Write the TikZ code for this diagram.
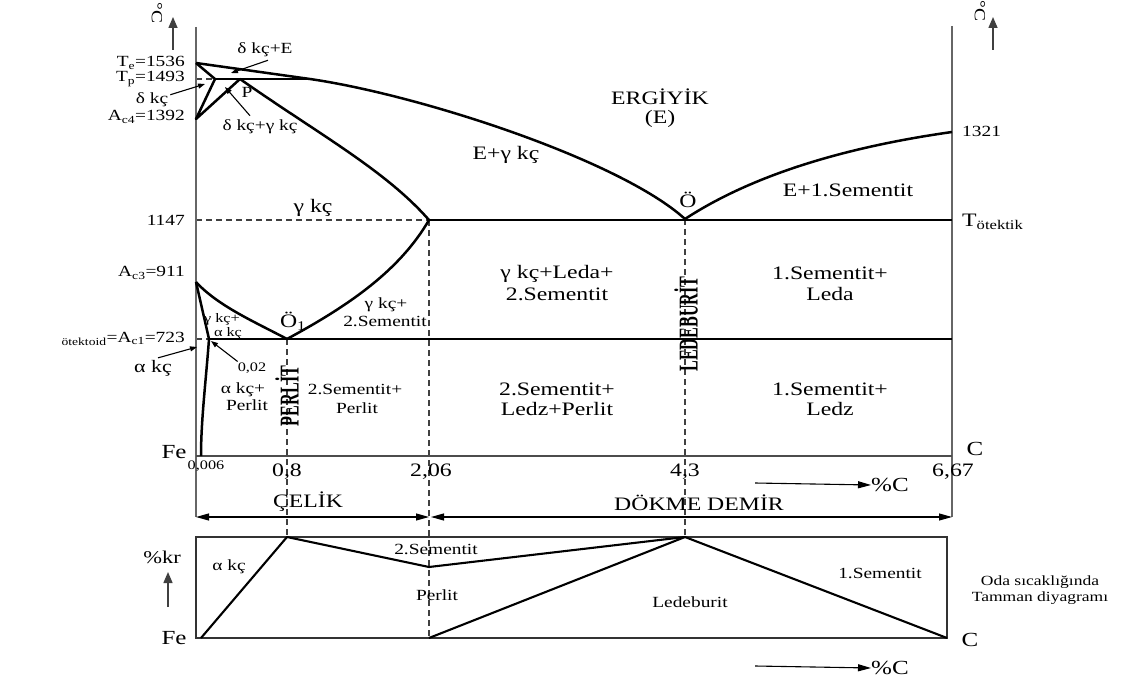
\documentclass[tikz,border=0pt]{standalone}
\usepackage{fontspec}
\setmainfont{Liberation Serif}[FakeStretch=1.25]
\newfontfamily\plainfont{Liberation Serif}
\usetikzlibrary{arrows.meta}
\begin{document}
\begin{tikzpicture}[x=1pt,y=-1pt,
  curve/.style={line width=2.5pt, black, line join=round},
  axisline/.style={line width=1.8pt, black!60},
  baseline/.style={line width=1.4pt, black!70},
  dashline/.style={line width=1.1pt, black!75, dash pattern=on 6pt off 4pt},
  pointer/.style={line width=1.1pt, -{Triangle[length=7pt,width=5pt]}},
  dimarrow/.style={line width=1.1pt, {Triangle[length=13pt,width=7pt]}-{Triangle[length=13pt,width=7pt]}},
  onearrow/.style={line width=1.1pt, -{Triangle[length=13pt,width=7pt]}},
  uparrow/.style={line width=1.5pt, black!75, -{Triangle[length=11pt,width=9pt]}},
  big/.style={font=\fontsize{19}{21}\selectfont, inner sep=0pt},
  mid/.style={font=\fontsize{15.5}{17}\selectfont, inner sep=0pt},
  small/.style={font=\fontsize{13}{14}\selectfont, inner sep=0pt},
  huge/.style={font=\fontsize{20}{22}\selectfont, inner sep=0pt},
  vert/.style={rotate=90, inner sep=0pt, font=\plainfont\bfseries\fontsize{17}{18}\selectfont},
]
\useasboundingbox (0,0) rectangle (1143,679);

% ---- key coordinates ----
\coordinate (LT) at (196,27);
\coordinate (LB) at (196,517);
\coordinate (RT) at (952,26);
\coordinate (RB) at (952,517);
\coordinate (Te) at (196,63);
\coordinate (Tp) at (196,79);
\coordinate (H) at (215,79);
\coordinate (P) at (240,79);
\coordinate (Bq) at (310,79);
\coordinate (A4) at (196,119);
\coordinate (Eleft) at (196,220);
\coordinate (E) at (429,220);
\coordinate (O) at (685,219);
\coordinate (Eright) at (952,220);
\coordinate (T1321) at (952,132);
\coordinate (A3) at (196,282);
\coordinate (A1) at (196,339);
\coordinate (Q) at (209,339);
\coordinate (O1) at (287,339);
\coordinate (A1r) at (952,339);
\coordinate (S0) at (201,456);
\coordinate (BL) at (196,456);
\coordinate (BR) at (952,456);
% lower box
\coordinate (bTL) at (196,537);
\coordinate (bBR) at (947,638);
\coordinate (k1) at (201,638);
\coordinate (k2) at (287,537);
\coordinate (k3) at (429,567);
\coordinate (k4) at (685,537);
\coordinate (k5) at (429,638);
\coordinate (k6) at (947,638);
\coordinate (dE) at (429,638);

% ---- dashed guides ----
\draw[dashline] (Tp) -- (H);
\draw[dashline] (Eleft) -- (E);
\draw[dashline] (A1) -- (Q);
\draw[dashline] (O1) -- (k2);
\draw[dashline] (E) -- (dE);
\draw[dashline] (O) -- (k4);

% ---- axes ----
\draw[axisline] (LT) -- (LB);
\draw[axisline] (RT) -- (RB);
\draw[baseline] (BL) -- (BR);

% ---- phase lines ----
\draw[curve] (Te) -- (Bq) .. controls (420,95) and (620,160) .. (O);
\draw[curve] (O) .. controls (760,170) and (860,145) .. (T1321);
\draw[curve] (Te) -- (H) -- (A4) -- (P);
\draw[curve] (H) -- (Bq);
\draw[curve] (P) .. controls (320,135) and (385,170) .. (E);
\draw[curve] (E) -- (Eright);
\draw[curve] (A3) .. controls (218,306) and (255,322) .. (O1);
\draw[curve] (O1) .. controls (350,305) and (400,270) .. (E);
\draw[curve] (A3) -- (Q);
\draw[curve] (Q) .. controls (206,380) and (201,420) .. (S0);
\draw[curve] (Q) -- (A1r);

% ---- lower Tamman box ----
\draw[line width=1.4pt, black!80] (bTL) rectangle (bBR);
\draw[curve, line width=2.1pt] (k1) -- (k2) -- (k3) -- (k4) -- (k6);
\draw[curve, line width=2.1pt] (k5) -- (k4);

% ---- dimension arrows ----
\draw[dimarrow] (LB) -- (429,517);
\draw[dimarrow] (431,517) -- (RB);

% ---- temperature axis arrows ----
\coordinate (ua1) at (173,50); \coordinate (ua2) at (173,17);
\coordinate (ub1) at (993,50); \coordinate (ub2) at (993,17);
\draw[uparrow] (ua1) -- (ua2);
\draw[uparrow] (ub1) -- (ub2);
\node[mid, rotate=-90] (degL) at (157,13) {°C};
\node[mid, rotate=-90] (degR) at (980,11) {°C};

% ---- left temperature labels ----
\node[mid, anchor=east] (lTe) at (185,63) {T\textsubscript{e}=1536};
\node[mid, anchor=east] (lTp) at (185,79) {T\textsubscript{p}=1493};
\node[mid] (ldel) at (152,100) {δ kç};
\node[mid, anchor=east] (lA4) at (185,117) {A\textsubscript{c4}=1392};
\node[mid, anchor=east] (l1147) at (185,220) {1147};
\node[mid, anchor=east] (lA3) at (185,273) {A\textsubscript{c3}=911};
\node[mid, anchor=east] (lA1) at (185,339) {\textsubscript{ötektoid}=A\textsubscript{c1}=723};

% ---- pointers ----
\node[mid] (ldE) at (265,50) {δ kç+E};
\node[mid] (lP) at (247,92) {P};
\node[mid] (ldg) at (260,127) {δ kç+γ kç};
\coordinate (pdE) at (231,73);
\coordinate (pdel) at (205,84);
\coordinate (pdg) at (225,87);
\draw[pointer] (ldE.south) ++(3,3) -- (pdE);
\draw[pointer] (ldel.north east) ++(2,2) -- (pdel);
\draw[pointer] (ldg.north) ++(-10,-4) -- (pdg);

\node[font=\fontsize{17.5}{19}\selectfont, inner sep=0pt] (lak) at (153,368) {α kç};
\coordinate (pak) at (197,347);
\draw[pointer] (lak.north) ++(5,-2) -- (pak);
\node[small] (l002) at (252,368) {0,02};
\coordinate (p002) at (211,341);
\draw[pointer] (l002.north west) ++(0,-1) -- (p002);

% ---- region labels ----
\node[big] (lErg) at (660,97) {ERGİYİK};
\node[big] (lEp) at (660,119) {(E)};
\node[big] (lEg) at (506,155) {E+γ kç};
\node[big] (lO) at (688,200) {Ö};
\node[big] (lE1) at (848,190) {E+1.Sementit};
\node[mid, anchor=west] (l1321) at (962,131) {1321};
\node[anchor=west, inner sep=0pt, font=\fontsize{19}{21}\selectfont] (lTot) at (962,222) {T\textsubscript{ötektik}};
\node[big] (lgk) at (313,208) {γ kç};
\node[big] (lgL1) at (557,274) {γ kç+Leda+};
\node[big] (lgL2) at (557,294) {2.Sementit};
\node[big] (lSL1) at (830,273) {1.Sementit+};
\node[big] (lSL2) at (830,294) {Leda};
\node[mid] (lgs1) at (386,305) {γ kç+};
\node[mid] (lgs2) at (385,321) {2.Sementit};
\node[big] (lO1) at (293,321) {Ö\textsubscript{1}};
\node[small] (lga1) at (222,319) {γ kç+};
\node[small] (lga2) at (228,333) {α kç};
\node[mid] (lakP1) at (243,390) {α kç+};
\node[mid] (lakP2) at (247,405) {Perlit};
\node[mid] (l2SP1) at (355,389) {2.Sementit+};
\node[mid] (l2SP2) at (357,408) {Perlit};
\node[big] (l2SL1) at (557,389) {2.Sementit+};
\node[big] (l2SL2) at (557,409) {Ledz+Perlit};
\node[big] (l1SL1) at (830,389) {1.Sementit+};
\node[big] (l1SL2) at (830,409) {Ledz};
\node[vert] (lPER) at (287,396) {\scalebox{0.95}[1.6]{PERLİT}};
\node[vert] (lLED) at (686,324) {\scalebox{0.95}[1.6]{LEDEBURİT}};

% ---- composition axis ----
\node[huge] (lFe) at (174,452) {Fe};
\node[huge] (lC) at (975,449) {C};
\node[small] (l006) at (206,466) {0,006};
\node[big] (l08) at (287,472) {0,8};
\node[big] (l206) at (431,472) {2,06};
\node[big] (l43) at (685,472) {4,3};
\node[big] (l667) at (953,472) {6,67};
\coordinate (pc1) at (755,483);
\node[huge, anchor=west] (lpc) at (871,485) {\%C};
\draw[onearrow] (pc1) -- (lpc.west);
\node[big] (lcel) at (308,502) {ÇELİK};
\node[big] (ldem) at (699,503) {DÖKME DEMİR};

% ---- lower box labels ----
\node[font=\fontsize{18}{20}\selectfont, inner sep=0pt] (lkr) at (162,557) {\%kr};
\coordinate (kr1) at (168,607); \coordinate (kr2) at (168,572);
\draw[uparrow] (kr1) -- (kr2);
\node[huge] (lFe2) at (174,638) {Fe};
\node[huge] (lC2) at (970,640) {C};
\node[mid] (lak2) at (229,567) {α kç};
\node[mid] (l2S) at (436,549) {2.Sementit};
\node[mid] (lPer) at (437,595) {Perlit};
\node[mid] (lLed) at (690,602) {Ledeburit};
\node[mid] (l1S) at (880,573) {1.Sementit};
\node[font=\fontsize{14}{15}\selectfont, inner sep=0pt] (lOda) at (1040,582) {Oda sıcaklığında};
\node[font=\fontsize{14}{15}\selectfont, inner sep=0pt] (lTam) at (1040,598) {Tamman diyagramı};
\coordinate (pc2) at (755,666);
\node[huge, anchor=west] (lpc2) at (871,668) {\%C};
\draw[onearrow] (pc2) -- (lpc2.west);
\end{tikzpicture}
\end{document}
